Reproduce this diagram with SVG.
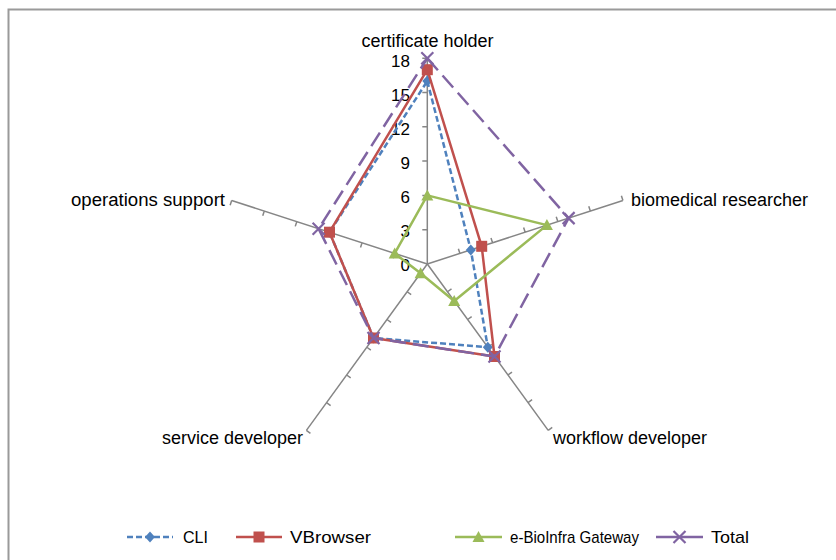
<svg xmlns="http://www.w3.org/2000/svg" xmlns:xlink="http://www.w3.org/1999/xlink" width="836" height="560" viewBox="0 0 836 560">
<style>
text{font-family:"Liberation Sans",Arial,sans-serif;font-size:18px;fill:#000}
.num{font-size:17px;text-anchor:end}
.lg{font-size:17px}
.ax{stroke:#868686;stroke-width:1.5;fill:none}
.s{fill:none;stroke-width:2.5;stroke-linejoin:round}
.cli{stroke:#4F81BD;stroke-dasharray:6 3}
.vb{stroke:#C0504D}
.gw{stroke:#9BBB59}
.tot{stroke:#8064A2;stroke-dasharray:16 7}
</style>
<defs>
<g id="axis" class="ax">
<path d="M427.3 264V58.3M422.3 229.7H427.3M422.3 195.4H427.3M422.3 161.1H427.3M422.3 126.8H427.3M422.3 92.6H427.3M422.3 58.3H427.3"/>
</g>
<path id="dia" d="M0 -5.5L5 0L0 5.5L-5 0Z" fill="#4F81BD"/>
<rect id="sq" x="-5.5" y="-5.5" width="11" height="11" fill="#C0504D"/>
<path id="tri" d="M0 -6L6 5H-6Z" fill="#9BBB59"/>
<path id="ex" d="M-6 -6L6 6M-6 6L6 -6" stroke="#8064A2" stroke-width="2.2" fill="none"/>
</defs>
<rect x="8.5" y="9.5" width="900" height="600" fill="#fff" stroke="#9a9a9a" stroke-width="2"/>
<g id="axes">
<use xlink:href="#axis"/>
<use xlink:href="#axis" transform="rotate(72 427.3 264)"/>
<use xlink:href="#axis" transform="rotate(144 427.3 264)"/>
<use xlink:href="#axis" transform="rotate(216 427.3 264)"/>
<use xlink:href="#axis" transform="rotate(288 427.3 264)"/>
</g>
<g id="tick-labels">
<text class="num" x="410" y="67">18</text>
<text class="num" x="410" y="101">15</text>
<text class="num" x="410" y="135">12</text>
<text class="num" x="410" y="169">9</text>
<text class="num" x="410" y="203">6</text>
<text class="num" x="410" y="237">3</text>
<text class="num" x="410" y="271">0</text>
</g>
<g id="category-labels">
<text x="427.5" y="47" text-anchor="middle">certificate holder</text>
<text x="631" y="206">biomedical researcher</text>
<text x="553" y="444">workflow developer</text>
<text x="303" y="444" text-anchor="end">service developer</text>
<text x="71" y="206" textLength="154" lengthAdjust="spacingAndGlyphs">operations support</text>
</g>
<g id="connectors">
<g id="series-cli">
<polygon class="s cli" points="427.3,81.1 470.8,249.9 487.8,347.2 373.5,338 329.5,232.2"/>
<use xlink:href="#dia" x="427.3" y="81.1"/>
<use xlink:href="#dia" x="470.8" y="249.9"/>
<use xlink:href="#dia" x="487.8" y="347.2"/>
<use xlink:href="#dia" x="373.5" y="338"/>
<use xlink:href="#dia" x="329.5" y="232.2"/>
</g>
<g id="series-vbrowser">
<polygon class="s vb" points="427.3,69.7 481.7,246.3 494.5,356.5 373.5,338 329.5,232.2"/>
<use xlink:href="#sq" x="427.3" y="69.7"/>
<use xlink:href="#sq" x="481.7" y="246.3"/>
<use xlink:href="#sq" x="494.5" y="356.5"/>
<use xlink:href="#sq" x="373.5" y="338"/>
<use xlink:href="#sq" x="329.5" y="232.2"/>
</g>
<g id="series-gateway">
<polygon class="s gw" points="427.3,195.4 546.9,225.1 454.2,301 420.6,273.2 394.7,253.4"/>
<use xlink:href="#tri" x="427.3" y="195.4"/>
<use xlink:href="#tri" x="546.9" y="225.1"/>
<use xlink:href="#tri" x="454.2" y="301"/>
<use xlink:href="#tri" x="420.6" y="273.2"/>
<use xlink:href="#tri" x="394.7" y="253.4"/>
</g>
<g id="series-total">
<polygon class="s tot" points="427.3,58.3 568.6,218.1 494.5,356.5 373.5,338 318.6,228.7"/>
<use xlink:href="#ex" x="427.3" y="58.3"/>
<use xlink:href="#ex" x="568.6" y="218.1"/>
<use xlink:href="#ex" x="494.5" y="356.5"/>
<use xlink:href="#ex" x="373.5" y="338"/>
<use xlink:href="#ex" x="318.6" y="228.7"/>
</g>
</g>
<g id="legend">
<path class="s cli" d="M127 537H173"/>
<use xlink:href="#dia" x="150" y="537"/>
<text class="lg" x="183" y="543" textLength="25" lengthAdjust="spacingAndGlyphs">CLI</text>
<path class="s vb" d="M236 537H282"/>
<use xlink:href="#sq" x="259" y="537"/>
<text class="lg" x="290" y="543" textLength="81" lengthAdjust="spacingAndGlyphs">VBrowser</text>
<path class="s gw" d="M455 537H502"/>
<use xlink:href="#tri" x="478.5" y="537"/>
<text class="lg" x="510" y="543" textLength="129" lengthAdjust="spacingAndGlyphs">e-BioInfra Gateway</text>
<path class="s" stroke="#8064A2" d="M656 537H703"/>
<use xlink:href="#ex" x="679.5" y="537"/>
<text class="lg" x="711" y="543" textLength="38" lengthAdjust="spacingAndGlyphs">Total</text>
</g>
</svg>
